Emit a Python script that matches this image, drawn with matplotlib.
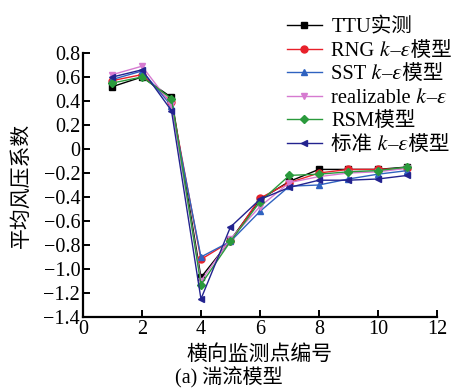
import numpy as np
import matplotlib.pyplot as plt

plt.rcParams['font.family'] = ['Liberation Serif', 'STIXGeneral', 'DejaVu Serif', 'Noto Sans CJK SC']

points = np.arange(1, 12)

ttu = [0.52, 0.60, 0.43, -1.07, -0.76, -0.42, -0.27, -0.17, -0.17, -0.17, -0.15]
rng = [0.57, 0.62, 0.39, -0.92, -0.77, -0.41, -0.28, -0.20, -0.17, -0.17, -0.16]
sst = [0.58, 0.65, 0.36, -0.90, -0.77, -0.52, -0.31, -0.30, -0.25, -0.21, -0.18]
realizable = [0.62, 0.69, 0.37, -1.10, -0.75, -0.48, -0.28, -0.23, -0.20, -0.19, -0.16]
rsm = [0.55, 0.60, 0.42, -1.13, -0.77, -0.44, -0.22, -0.21, -0.19, -0.18, -0.15]
std = [0.60, 0.66, 0.32, -1.25, -0.65, -0.42, -0.32, -0.26, -0.26, -0.25, -0.22]

ke = '\U0001D458–\U0001D700'  # italic k–epsilon
series = [
    (ttu, 'TTU实测', 'black', 's'),
    (rng, 'RNG ' + ke + '模型', '#e8202a', 'o'),
    (sst, 'SST ' + ke + '模型', '#2f62c0', '^'),
    (realizable, 'realizable ' + ke, '#d67ad0', 'v'),
    (rsm, 'RSM模型', '#2a9a3c', 'D'),
    (std, '标准 ' + ke + '模型', '#23238f', '<'),
]

fig = plt.figure(figsize=(4.57, 3.88), dpi=100)
ax = fig.add_axes([0.1816, 0.183, 0.7744, 0.6804])

for vals, label, color, marker in series:
    ax.plot(points, vals, color=color, marker=marker, markersize=5 if marker != 'D' else 4.5,
            linewidth=1.0, label=label)

ax.set_xlim(0, 12)
ax.set_ylim(-1.4, 0.8)
ax.set_xticks(np.arange(0, 13, 2))
ax.set_yticks(np.round(np.arange(-1.4, 0.81, 0.2), 1))
ax.set_yticklabels(['−1.4', '−1.2', '−1.0', '−0.8', '−0.6', '−0.4', '−0.2', '0',
                    '0.2', '0.4', '0.6', '0.8'])
ax.spines['top'].set_visible(False)
ax.spines['right'].set_visible(False)
for s in ['left', 'bottom']:
    ax.spines[s].set_linewidth(1.6)
ax.tick_params(direction='in', length=5, width=1.4, labelsize=14.5, pad=2)

ax.set_xlabel('横向监测点编号', fontsize=15)
ax.xaxis.set_label_coords(0.5, -0.144)
ax.xaxis.label.set_va('center')
ax.set_ylabel('平均风压系数', fontsize=15)
ax.yaxis.set_label_coords(-0.172, 0.5)
ax.yaxis.label.set_va('center')
fig.text(0.5, 1 - 378 / 388, '(a) 湍流模型', ha='center', va='center', fontsize=14.5)

fig.legend(loc='upper left', bbox_to_anchor=(0.628, 0.954), frameon=False,
           fontsize=14.8, handlelength=1.7, handletextpad=0.45, labelspacing=0.2,
           borderpad=0, borderaxespad=0)

fig.savefig('out.png', dpi=100)
